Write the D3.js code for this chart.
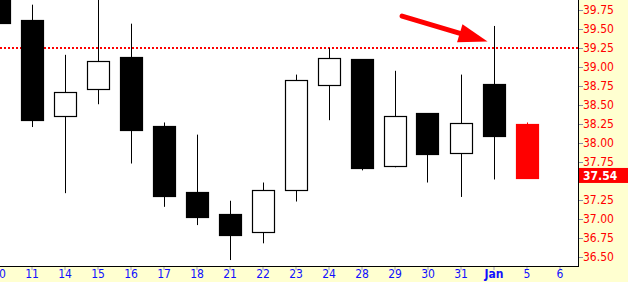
<!DOCTYPE html>
<html lang="en">
<head>
<meta charset="utf-8">
<title>Candles</title>
<script src="https://d3js.org/d3.v7.min.js"></script>
<style>
  body { margin: 0; background: #fff; }
  svg text { font-family: "DejaVu Sans Condensed", "DejaVu Sans", sans-serif; }
</style>
</head>
<body>
<div id="chart"></div>
<script>

// date labels along the bottom (first one is cut off at the left edge)
var dates = ["10", "11", "14", "15", "16", "17", "18", "21", "22", "23", "24", "28", "29", "30", "31", "Jan", "5", "6"];

// daily prices, one per candle
var opens  = [40.05, 39.62, 38.36, 38.71, 39.13, 38.23, 37.35, 37.06, 36.83, 37.38, 38.77, 39.10, 37.70, 38.39, 37.87, 38.77, 38.25];
var highs  = [40.10, 39.82, 39.16, 39.95, 39.57, 38.27, 38.11, 37.24, 37.48, 38.90, 39.25, 39.10, 38.95, 38.39, 38.90, 39.54, 38.27];
var lows   = [39.58, 38.21, 37.34, 38.51, 37.73, 37.16, 36.92, 36.46, 36.68, 37.23, 38.30, 37.64, 37.68, 37.48, 37.29, 37.52, 37.54];
var closes = [39.58, 38.30, 38.67, 39.08, 38.17, 37.31, 37.02, 36.79, 37.38, 38.83, 39.12, 37.67, 38.36, 37.85, 38.26, 38.09, 37.54];

// 37.50 sits under the last-price box, so it is left out
var priceTicks = [36.50, 36.75, 37.00, 37.25, 37.75, 38.00, 38.25, 38.50, 38.75, 39.00, 39.25, 39.50, 39.75];
var resistance = 39.25;
var lastPrice = 37.54;
// arrow annotation: [date index, price] for tail and tip
var arrowFrom = [12.23, 39.67];
var arrowTo = [14.82, 39.335];

var W = 628, H = 282;
var plotW = 578, plotH = 266;

var svg = d3.select("#chart").append("svg")
  .attr("width", W)
  .attr("height", H);

// backgrounds
svg.append("rect").attr("width", W).attr("height", H).attr("fill", "#ffffd0");
svg.append("rect").attr("width", plotW).attr("height", plotH).attr("fill", "#ffffff");

var x = d3.scaleLinear().domain([0, dates.length - 1]).range([-1.5, -1.5 + 33 * (dates.length - 1)]);
var y = d3.scaleLinear().domain([39.25 - (plotH - 48) / 76, 39.25 + 48 / 76]).range([plotH, 0]);

svg.append("clipPath").attr("id", "plotclip")
  .append("rect").attr("width", plotW).attr("height", plotH);

var plot = svg.append("g").attr("clip-path", "url(#plotclip)");

// resistance line
plot.append("line")
  .attr("x1", 0).attr("x2", plotW)
  .attr("y1", y(resistance)).attr("y2", y(resistance))
  .attr("stroke", "#ff0000")
  .attr("stroke-width", 2)
  .attr("stroke-dasharray", "2,2");

var candles = d3.range(opens.length).map(function(i) {
  return {i: i, o: opens[i], h: highs[i], l: lows[i], c: closes[i]};
});
var last = candles.length - 1;
var bodyW = 22;

// wicks
plot.selectAll(".wick")
  .data(candles)
  .enter()
  .append("line")
    .attr("class", "wick")
    .attr("x1", function(d) { return Math.round(x(d.i)) + 0.5; })
    .attr("x2", function(d) { return Math.round(x(d.i)) + 0.5; })
    .attr("y1", function(d) { return y(d.h); })
    .attr("y2", function(d) { return y(d.l); })
    .attr("stroke", function(d) { return d.i == last ? "#ff0000" : "#000"; })
    .attr("stroke-width", 1);

// bodies
plot.selectAll(".body")
  .data(candles)
  .enter()
  .append("rect")
    .attr("class", "body")
    .attr("x", function(d) { return Math.round(x(d.i) - bodyW / 2) + 0.5; })
    .attr("width", bodyW)
    .attr("y", function(d) { return Math.round(y(Math.max(d.o, d.c))) + 0.5; })
    .attr("height", function(d) { return Math.max(1, Math.round(y(Math.min(d.o, d.c)) - y(Math.max(d.o, d.c)))); })
    .attr("fill", function(d) {
      if (d.i == last) return "#ff0000";
      return d.c > d.o ? "#ffffff" : "#000000";
    })
    .attr("stroke", function(d) { return d.i == last ? "#ff0000" : "#000"; })
    .attr("stroke-width", 1.2);

// arrow
var ax0 = x(arrowFrom[0]), ay0 = y(arrowFrom[1]);
var ax1 = x(arrowTo[0]), ay1 = y(arrowTo[1]);
var ang = Math.atan2(ay1 - ay0, ax1 - ax0);
var headLen = 29, headHalf = 9.5;
var bx = ax1 - headLen * Math.cos(ang), by = ay1 - headLen * Math.sin(ang);
plot.append("line")
  .attr("x1", ax0).attr("y1", ay0)
  .attr("x2", bx + 2 * Math.cos(ang)).attr("y2", by + 2 * Math.sin(ang))
  .attr("stroke", "#ff0000")
  .attr("stroke-width", 5)
  .attr("stroke-linecap", "round");
plot.append("path")
  .attr("d", "M" + ax1 + "," + ay1 +
    "L" + (bx + headHalf * Math.sin(ang)) + "," + (by - headHalf * Math.cos(ang)) +
    "L" + (bx - headHalf * Math.sin(ang)) + "," + (by + headHalf * Math.cos(ang)) + "Z")
  .attr("fill", "#ff0000");

// frame
svg.append("line").attr("x1", plotW + 0.5).attr("x2", plotW + 0.5).attr("y1", 0).attr("y2", plotH + 1)
  .attr("stroke", "#000");
svg.append("line").attr("x1", 0).attr("x2", plotW + 1).attr("y1", plotH + 0.5).attr("y2", plotH + 0.5)
  .attr("stroke", "#000");

// right price axis
var yAxis = svg.append("g")
  .attr("transform", "translate(" + (plotW + 1) + ",0)")
  .call(d3.axisRight(y).tickValues(priceTicks).tickSize(4).tickPadding(0).tickFormat(d3.format(".2f")));
yAxis.select(".domain").remove();
yAxis.selectAll("line").attr("stroke", "#8a8aa8");
yAxis.selectAll("text")
  .attr("fill", "#ff0000")
  .attr("dy", "0.25em")
  .style("font-size", "12px");

// last price box
var lastG = svg.append("g");
lastG.append("rect")
  .attr("x", plotW + 1).attr("width", W - plotW - 1)
  .attr("y", y(lastPrice) - 10).attr("height", 15)
  .attr("fill", "#ff0000");
lastG.append("text")
  .attr("x", plotW + 5).attr("y", y(lastPrice) + 2)
  .attr("fill", "#ffffff")
  .style("font-size", "12px")
  .style("font-weight", "bold")
  .text(lastPrice.toFixed(2));

// bottom date axis
var xAxis = svg.append("g")
  .attr("transform", "translate(0," + (plotH + 1) + ")")
  .call(d3.axisBottom(x).tickValues(d3.range(dates.length)).tickSize(3).tickPadding(-1)
    .tickFormat(function(d) { return dates[d]; }));
xAxis.select(".domain").remove();
xAxis.selectAll("line").attr("stroke", "#9a9ac8");
xAxis.selectAll("text")
  .attr("fill", "#1010ff")
  .style("font-size", "12px")
  .style("font-weight", function(d) { return dates[d] == "Jan" ? "bold" : "normal"; });

</script>
</body>
</html>
